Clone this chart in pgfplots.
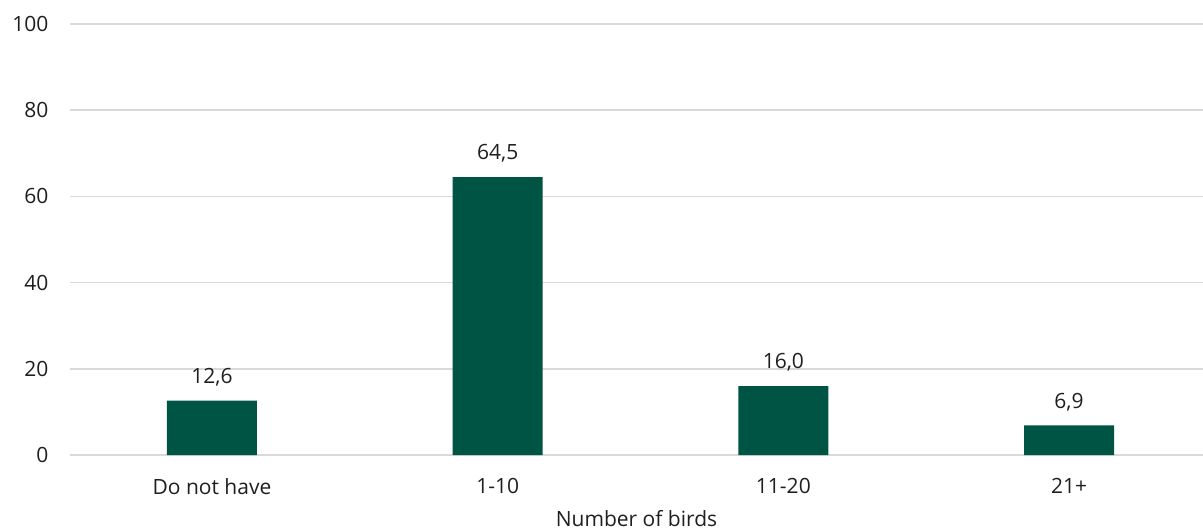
\documentclass[border=0pt]{standalone}
\usepackage{pgfplots}
\pgfplotsset{compat=1.18}
\usepackage{fontspec}
\setmainfont{Open Sans}
\definecolor{barc}{HTML}{005444}
\definecolor{gridc}{HTML}{D9D9D9}
\begin{document}
\begin{tikzpicture}
\begin{axis}[
  name=ax,
  scale only axis,
  width=1133pt, height=431pt,
  xmin=-0.497, xmax=3.469,
  ymin=0, ymax=100,
  ytick={0,20,40,60,80,100},
  xtick=data,
  xticklabels={Do not have,1-10,11-20,21+},
  axis line style={draw=none},
  major tick length=0pt,
  ymajorgrids,
  grid style={gridc, line width=1.5pt},
  ybar,
  bar width=90pt,
  /pgf/number format/assume math mode=true,
  ticklabel style={font=\fontsize{21}{24}\selectfont, text=black!88},
  yticklabel style={xshift=-18pt},
  xticklabel style={yshift=-20pt},
  xlabel={Number of birds},
  xlabel style={font=\fontsize{21}{24}\selectfont, text=black!88, yshift=-9pt},
  nodes near coords,
  nodes near coords style={font=\fontsize{21}{24}\selectfont, text=black!88, yshift=11pt,
    /pgf/number format/fixed, /pgf/number format/fixed zerofill, /pgf/number format/precision=1,
    /pgf/number format/use comma, /pgf/number format/assume math mode=true},
  clip=false,
]
\addplot[fill=barc, draw=none] coordinates {(0,12.6) (1,64.5) (2,16.0) (3,6.9)};
\end{axis}
\pgfresetboundingbox
\path ([xshift=-70pt,yshift=-76pt]ax.south west) rectangle ([yshift=24pt]ax.north east);
\end{tikzpicture}
\end{document}
